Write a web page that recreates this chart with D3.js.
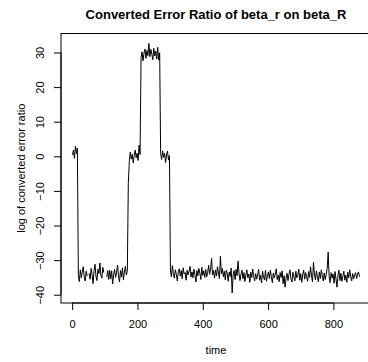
<!DOCTYPE html>
<html>
<head>
<meta charset="utf-8">
<script src="https://cdn.jsdelivr.net/npm/d3@7"></script>
<style>
  body { margin: 0; background: #fff; }
  svg { display: block; font-family: "Liberation Sans", Arial, sans-serif; }
</style>
</head>
<body>
<div id="chart"></div>
<script>
// series sampled every 3 time steps, starting at t = 1 (null = missing)
const timeStart = 1, timeStep = 3;
const ratio = [
  0.4, 1.8, -0.6, 2.9, 0.8, 2.4,
  -34.5, -36.2, -32.8, -35.1, -33.4, -31.9, -34.8, -36.0, -33.2, -34.6,
  null, -33.8, -35.5, -32.4, -34.1, -36.8, -33.0, -31.2, -34.7, -35.9,
  -32.6, -33.9, -30.8, -34.4, -35.2, -32.1, -33.6, null, null, -34.9,
  -33.0, -35.6, -32.9, -35.4, -33.1, -36.9, -34.2, -32.7, -35.0, -33.5,
  -31.4, -34.6, -36.3, -33.0, -34.9, -32.2, -35.7, -33.4, -31.8, -34.3, -33.0,
  -7.8, -1.5, 1.2, -0.8, 0.6, -1.9, 0.2, 1.8, -0.4, 0.9, -1.2, 3.2, 0.5,
  28.5, 30.2, 27.6, 29.8, 31.0, 28.3, 30.6, 29.1, 32.6, 28.8,
  30.9, 29.5, 27.9, 31.2, 29.0, 30.4, 28.1, 31.5, 27.8, 29.9,
  0.8, -0.9, 1.6, -0.3, 0.9, -1.8, 0.4, 1.5, -1.1, 0.2,
  -33.1, -34.8, -31.6, -33.9, -35.2, -32.8, -34.1, -36.0, -33.3, -32.5,
  -34.6, -33.0, -35.4, -32.2, -34.0, -33.6, -35.8, -32.9, -34.3, -33.2,
  -31.8, -34.9, -33.4, -35.1, -32.6, -34.2, -36.3, -33.0, -34.5, -32.4,
  -33.8, -35.6, -32.1, -34.4, -33.1, -35.0, -32.7, -34.8, -33.5, -31.5,
  -34.1, -32.6, -29.5, -34.3, -33.0, -35.2, -32.8, -34.6, -31.9, -33.7,
  -35.3, -28.9, -33.9, -32.4, -34.8, -33.2, -35.7, -32.9, -34.0, -36.1,
  -33.4, -34.7, -32.3, -39.5, -34.2, -33.0, -35.6, -32.7, -34.5, -30.3,
  -33.8, -35.9, -34.1, -32.9, -35.4, -33.6, -36.2, -34.3, -32.8, -35.1,
  -34.0, -36.4, -33.5, -35.0, -32.6, -34.7, -36.0, -33.9, -35.5, -34.2,
  -32.7, -35.8, -34.4, -36.6, -33.2, -34.9, -35.7, -33.0, -36.1, -34.6,
  -33.4, -35.3, -32.9, -34.8, -36.5, -33.7, -35.1, -34.0, -32.5, -35.6,
  -34.3, -36.2, -33.6, -35.0, -33.1, -36.8, -34.5, -37.8, -35.2, -33.8,
  -35.9, -34.1, -32.8, -35.4, -36.3, -33.5, -34.7, -36.0, -33.2, -35.1,
  -34.4, -32.6, -35.8, -33.9, -36.4, -34.2, -32.9, -35.5, -33.6, -34.8,
  -36.1, -33.3, -35.0, -31.9, -34.6, -36.3, -30.6, -34.0, -35.7, -33.1,
  -34.9, -36.2, -33.4, -35.3, -32.8, -34.5, -36.0, -33.7, -35.6, -34.1,
  -32.4, -27.7, -34.8, -36.5, -33.6, -35.2, -34.0, -36.7, -33.3, -35.5,
  -37.8, -34.4, -32.9, -35.9, -33.8, -36.1, -34.6, -33.2, -35.8, -34.3,
  -36.4, -33.5, -35.1, -32.8, -34.7, -36.0, -33.9, -35.4, -34.2, -33.6,
  -35.3, -34.0, -33.4, -34.8
];
const xTicks = [0, 200, 400, 600, 800];
const yTicks = [-40, -30, -20, -10, 0, 10, 20, 30];

const data = ratio.map((v, i) => ({ t: timeStart + i * timeStep, v }));

const width = 368, height = 362;
const mLeft = 61, mRight = 371, mTop = 33.5, mBottom = 303;

const svg = d3.select("#chart").append("svg")
  .attr("width", width)
  .attr("height", height);

// R style: pad the data range by 4% on each side
const valid = data.filter(d => d.v !== null);
const tExt = d3.extent(data, d => d.t), vExt = d3.extent(valid, d => d.v);
const tPad = (tExt[1] - tExt[0]) * 0.04, vPad = (vExt[1] - vExt[0]) * 0.04;

const x = d3.scaleLinear()
  .domain([tExt[0] - tPad, tExt[1] + tPad])
  .range([mLeft, mRight]);
const y = d3.scaleLinear()
  .domain([vExt[0] - vPad, vExt[1] + vPad])
  .range([mBottom, mTop]);

const line = d3.line()
  .defined(d => d.v !== null)
  .x(d => x(d.t))
  .y(d => y(d.v));

svg.append("path")
  .datum(data)
  .attr("fill", "none")
  .attr("stroke", "#000")
  .attr("stroke-width", 1)
  .attr("stroke-linejoin", "round")
  .attr("d", line);

// axes
svg.append("g")
  .attr("transform", `translate(0,${mBottom})`)
  .call(d3.axisBottom(x).tickValues(xTicks).tickSize(7).tickPadding(10).tickFormat(d3.format("d")))
  .call(g => g.select(".domain").attr("d", `M${x(xTicks[0])},0H${x(xTicks[xTicks.length - 1])}`));

const yAxis = svg.append("g")
  .attr("transform", `translate(${mLeft},0)`)
  .call(d3.axisLeft(y).tickValues(yTicks).tickSize(7).tickFormat(d => d < 0 ? "\u2212" + (-d) : d))
  .call(g => g.select(".domain").attr("d", `M0,${y(yTicks[0])}V${y(yTicks[yTicks.length - 1])}`));

yAxis.selectAll(".tick text")
  .attr("transform", "rotate(-90)")
  .attr("text-anchor", "middle")
  .attr("x", 0)
  .attr("y", -17)
  .attr("dy", 0);

svg.selectAll(".tick text")
  .attr("font-family", "Liberation Sans, Arial, sans-serif")
  .attr("font-size", 11)
  .attr("fill", "#000");
svg.selectAll(".tick line, .domain").attr("stroke", "#000");

// box
svg.append("rect")
  .attr("x", mLeft)
  .attr("y", mTop)
  .attr("width", mRight - mLeft)
  .attr("height", mBottom - mTop)
  .attr("fill", "none")
  .attr("stroke", "#000");

// titles
svg.append("text")
  .attr("x", (mLeft + mRight) / 2)
  .attr("y", 19)
  .attr("text-anchor", "middle")
  .attr("font-size", 13)
  .attr("font-weight", "bold")
  .text("Converted Error Ratio of beta_r on beta_R");

svg.append("text")
  .attr("x", (mLeft + mRight) / 2)
  .attr("y", 354)
  .attr("text-anchor", "middle")
  .attr("font-size", 11)
  .text("time");

svg.append("text")
  .attr("transform", `translate(25,${(mTop + mBottom) / 2}) rotate(-90)`)
  .attr("text-anchor", "middle")
  .attr("font-size", 11)
  .text("log of converted error ratio");
</script>
</body>
</html>
